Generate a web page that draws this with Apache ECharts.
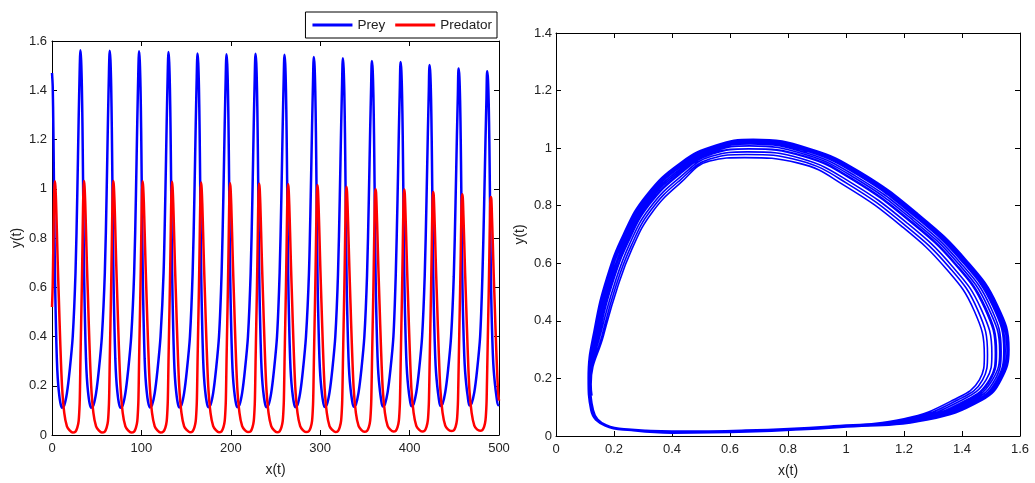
<!DOCTYPE html>
<html>
<head>
<meta charset="utf-8">
<script src="https://cdn.jsdelivr.net/npm/echarts@6/dist/echarts.min.js"></script>
<style>
html,body{margin:0;padding:0;background:#fff;}
#chart{width:1035px;height:483px;}
</style>
</head>
<body>
<div id="chart"></div>
<script>
// time samples (x(t) axis of left panel), one row per prey cycle
const time = [
  0, 0.8, 1.5, 2.1, 2.6, 3.2, 3.8, 4.5, 5.4, 6.4, 7.7, 9.2, 11.2, 13.7, 16.7, 19.7, 23.2, 26.3, 28.3, 29.8, 30.9, 31.35, 31.8,
  32.6, 33.4, 34.1, 34.7, 35.2, 35.8, 36.4, 37.1, 38.0, 39.0, 40.3, 41.8, 43.8, 46.3, 49.3, 52.3, 55.8, 59.1, 61.1, 62.6, 63.7, 64.15, 64.6,
  65.4, 66.2, 66.9, 67.5, 68.0, 68.6, 69.2, 69.9, 70.8, 71.8, 73.1, 74.6, 76.6, 79.1, 82.1, 85.1, 88.6, 91.9, 93.9, 95.4, 96.5, 96.95, 97.4,
  98.2, 99.0, 99.7, 100.3, 100.8, 101.4, 102.0, 102.7, 103.6, 104.6, 105.9, 107.4, 109.4, 111.9, 114.9, 117.9, 121.4, 124.8, 126.8, 128.3, 129.4, 129.85, 130.3,
  131.1, 131.9, 132.6, 133.2, 133.7, 134.3, 134.9, 135.6, 136.5, 137.5, 138.8, 140.3, 142.3, 144.8, 147.8, 150.8, 154.3, 157.3, 159.3, 160.8, 161.9, 162.35, 162.8,
  163.6, 164.4, 165.1, 165.7, 166.2, 166.8, 167.4, 168.1, 169.0, 170.0, 171.3, 172.8, 174.8, 177.3, 180.3, 183.3, 186.8, 189.7, 191.7, 193.2, 194.3, 194.75, 195.2,
  196.0, 196.8, 197.5, 198.1, 198.6, 199.2, 199.8, 200.5, 201.4, 202.4, 203.7, 205.2, 207.2, 209.7, 212.7, 215.7, 219.2, 222.2, 224.2, 225.7, 226.8, 227.25, 227.7,
  228.5, 229.3, 230.0, 230.6, 231.1, 231.7, 232.3, 233.0, 233.9, 234.9, 236.2, 237.7, 239.7, 242.2, 245.2, 248.2, 251.7, 254.6, 256.6, 258.1, 259.2, 259.65, 260.1,
  260.9, 261.7, 262.4, 263.0, 263.5, 264.1, 264.7, 265.4, 266.3, 267.3, 268.6, 270.1, 272.1, 274.6, 277.6, 280.6, 284.1, 287.4, 289.4, 290.9, 292.0, 292.45, 292.9,
  293.7, 294.5, 295.2, 295.8, 296.3, 296.9, 297.5, 298.2, 299.1, 300.1, 301.4, 302.9, 304.9, 307.4, 310.4, 313.4, 316.9, 319.9, 321.9, 323.4, 324.5, 324.95, 325.4,
  326.2, 327.0, 327.7, 328.3, 328.8, 329.4, 330.0, 330.7, 331.6, 332.6, 333.9, 335.4, 337.4, 339.9, 342.9, 345.9, 349.4, 352.4, 354.4, 355.9, 357.0, 357.45, 357.9,
  358.7, 359.5, 360.2, 360.8, 361.3, 361.9, 362.5, 363.2, 364.1, 365.1, 366.4, 367.9, 369.9, 372.4, 375.4, 378.4, 381.9, 384.5, 386.5, 388.0, 389.1, 389.55, 390.0,
  390.8, 391.6, 392.3, 392.9, 393.4, 394.0, 394.6, 395.3, 396.2, 397.2, 398.5, 400.0, 402.0, 404.5, 407.5, 410.5, 414.0, 416.9, 418.9, 420.4, 421.5, 421.95, 422.4,
  423.2, 424.0, 424.7, 425.3, 425.8, 426.4, 427.0, 427.7, 428.6, 429.6, 430.9, 432.4, 434.4, 436.9, 439.9, 442.9, 446.4, 449.4, 451.4, 452.9, 454.0, 454.45, 454.9,
  455.7, 456.5, 457.2, 457.8, 458.3, 458.9, 459.5, 460.2, 461.1, 462.1, 463.4, 464.9, 466.9, 469.4, 472.4, 475.4, 478.9, 481.4, 483.4, 484.9, 486.0, 486.45, 486.9,
  487.7, 488.5, 489.2, 489.8, 490.3, 490.9, 491.5, 492.2, 493.1, 494.1, 495.4, 496.9, 498.9, 500.0
];
// prey population
const prey = [
  1.47, 1.416, 1.25, 1.048, 0.876, 0.68, 0.55, 0.43, 0.31, 0.232, 0.175, 0.134, 0.111, 0.12, 0.17, 0.26, 0.40, 0.66, 0.98, 1.28, 1.47, 1.535, 1.562,
  1.522, 1.416, 1.25, 1.048, 0.876, 0.68, 0.55, 0.43, 0.31, 0.232, 0.175, 0.134, 0.111, 0.12, 0.17, 0.26, 0.40, 0.66, 0.98, 1.28, 1.47, 1.535, 1.560,
  1.522, 1.416, 1.25, 1.048, 0.876, 0.68, 0.55, 0.43, 0.31, 0.232, 0.175, 0.134, 0.111, 0.12, 0.17, 0.26, 0.40, 0.659, 0.978, 1.276, 1.465, 1.531, 1.558,
  1.518, 1.413, 1.247, 1.046, 0.874, 0.679, 0.549, 0.43, 0.311, 0.234, 0.177, 0.136, 0.112, 0.121, 0.17, 0.26, 0.40, 0.658, 0.976, 1.272, 1.46, 1.528, 1.555,
  1.514, 1.409, 1.244, 1.043, 0.872, 0.677, 0.548, 0.43, 0.312, 0.235, 0.179, 0.137, 0.112, 0.121, 0.171, 0.26, 0.40, 0.657, 0.974, 1.268, 1.455, 1.524, 1.549,
  1.51, 1.406, 1.241, 1.041, 0.87, 0.676, 0.547, 0.43, 0.313, 0.237, 0.18, 0.139, 0.113, 0.122, 0.171, 0.26, 0.40, 0.656, 0.972, 1.264, 1.45, 1.52, 1.546,
  1.506, 1.402, 1.238, 1.038, 0.868, 0.674, 0.546, 0.43, 0.314, 0.238, 0.182, 0.14, 0.113, 0.122, 0.171, 0.26, 0.40, 0.657, 0.974, 1.268, 1.455, 1.524, 1.548,
  1.51, 1.406, 1.241, 1.041, 0.87, 0.676, 0.547, 0.43, 0.313, 0.237, 0.18, 0.139, 0.113, 0.122, 0.171, 0.26, 0.40, 0.656, 0.972, 1.264, 1.45, 1.52, 1.544,
  1.506, 1.402, 1.238, 1.038, 0.868, 0.674, 0.546, 0.43, 0.314, 0.238, 0.182, 0.14, 0.113, 0.122, 0.171, 0.26, 0.40, 0.654, 0.968, 1.256, 1.44, 1.513, 1.535,
  1.498, 1.395, 1.232, 1.033, 0.864, 0.671, 0.544, 0.43, 0.316, 0.241, 0.186, 0.143, 0.114, 0.123, 0.172, 0.26, 0.40, 0.652, 0.964, 1.248, 1.43, 1.505, 1.530,
  1.49, 1.388, 1.226, 1.028, 0.86, 0.668, 0.542, 0.43, 0.318, 0.244, 0.189, 0.146, 0.115, 0.124, 0.172, 0.26, 0.40, 0.65, 0.96, 1.24, 1.42, 1.498, 1.519,
  1.482, 1.381, 1.22, 1.023, 0.856, 0.665, 0.54, 0.43, 0.32, 0.247, 0.193, 0.149, 0.116, 0.125, 0.173, 0.26, 0.40, 0.649, 0.958, 1.236, 1.415, 1.494, 1.515,
  1.478, 1.378, 1.217, 1.021, 0.854, 0.664, 0.539, 0.43, 0.321, 0.249, 0.194, 0.151, 0.117, 0.126, 0.173, 0.26, 0.40, 0.646, 0.952, 1.224, 1.40, 1.483, 1.503,
  1.466, 1.367, 1.208, 1.013, 0.848, 0.659, 0.536, 0.43, 0.324, 0.253, 0.2, 0.155, 0.118, 0.127, 0.174, 0.26, 0.40, 0.643, 0.946, 1.212, 1.385, 1.471, 1.488,
  1.454, 1.357, 1.199, 1.006, 0.842, 0.655, 0.533, 0.43, 0.327, 0.258, 0.205, 0.16, 0.12, 0.129, 0.174, 0.26, 0.40, 0.64, 0.94, 1.2, 1.37, 1.46, 1.477,
  1.442, 1.346, 1.19, 0.998, 0.836, 0.65, 0.53, 0.43, 0.33, 0.262, 0.21, 0.164, 0.121, 0.124
];
// predator population
const predator = [
  0.52, 0.61, 0.77, 0.918, 0.998, 1.03, 1.01, 0.95, 0.835, 0.70, 0.55, 0.38, 0.20, 0.09, 0.035, 0.019, 0.010, 0.014, 0.030, 0.056, 0.125, 0.195, 0.30,
  0.455, 0.61, 0.77, 0.918, 0.998, 1.031, 1.01, 0.95, 0.835, 0.70, 0.55, 0.38, 0.20, 0.09, 0.035, 0.019, 0.010, 0.014, 0.030, 0.056, 0.125, 0.195, 0.30,
  0.455, 0.61, 0.77, 0.918, 0.998, 1.031, 1.01, 0.95, 0.835, 0.70, 0.55, 0.38, 0.20, 0.09, 0.035, 0.019, 0.010, 0.014, 0.030, 0.056, 0.125, 0.195, 0.299,
  0.454, 0.609, 0.768, 0.916, 0.996, 1.030, 1.007, 0.947, 0.832, 0.698, 0.548, 0.379, 0.199, 0.09, 0.035, 0.019, 0.010, 0.015, 0.030, 0.056, 0.125, 0.195, 0.298,
  0.453, 0.607, 0.766, 0.913, 0.993, 1.028, 1.005, 0.943, 0.829, 0.695, 0.546, 0.377, 0.198, 0.09, 0.035, 0.02, 0.011, 0.015, 0.031, 0.057, 0.125, 0.195, 0.297,
  0.452, 0.606, 0.764, 0.911, 0.991, 1.025, 1.002, 0.94, 0.826, 0.693, 0.544, 0.376, 0.197, 0.09, 0.036, 0.02, 0.011, 0.015, 0.031, 0.057, 0.125, 0.195, 0.296,
  0.451, 0.604, 0.762, 0.908, 0.988, 1.022, 0.999, 0.936, 0.823, 0.69, 0.542, 0.374, 0.196, 0.09, 0.036, 0.02, 0.012, 0.015, 0.031, 0.057, 0.125, 0.195, 0.297,
  0.452, 0.606, 0.764, 0.911, 0.991, 1.020, 1.002, 0.94, 0.826, 0.693, 0.544, 0.376, 0.197, 0.09, 0.036, 0.02, 0.011, 0.015, 0.031, 0.057, 0.125, 0.195, 0.296,
  0.451, 0.604, 0.762, 0.908, 0.988, 1.018, 0.999, 0.936, 0.823, 0.69, 0.542, 0.374, 0.196, 0.09, 0.036, 0.02, 0.012, 0.016, 0.031, 0.057, 0.125, 0.195, 0.294,
  0.449, 0.601, 0.758, 0.903, 0.983, 1.015, 0.994, 0.929, 0.817, 0.685, 0.538, 0.371, 0.194, 0.09, 0.036, 0.021, 0.012, 0.016, 0.032, 0.058, 0.125, 0.195, 0.292,
  0.447, 0.598, 0.754, 0.898, 0.978, 1.008, 0.988, 0.922, 0.811, 0.68, 0.534, 0.368, 0.192, 0.09, 0.037, 0.021, 0.013, 0.017, 0.032, 0.058, 0.125, 0.195, 0.29,
  0.445, 0.595, 0.75, 0.893, 0.973, 0.998, 0.983, 0.915, 0.805, 0.675, 0.53, 0.365, 0.19, 0.09, 0.037, 0.022, 0.014, 0.017, 0.032, 0.058, 0.125, 0.195, 0.289,
  0.444, 0.594, 0.748, 0.891, 0.971, 0.997, 0.98, 0.912, 0.802, 0.673, 0.528, 0.364, 0.189, 0.09, 0.037, 0.022, 0.014, 0.018, 0.033, 0.059, 0.125, 0.195, 0.286,
  0.441, 0.589, 0.742, 0.883, 0.963, 0.987, 0.972, 0.901, 0.793, 0.665, 0.522, 0.359, 0.186, 0.09, 0.038, 0.023, 0.016, 0.019, 0.033, 0.059, 0.125, 0.195, 0.283,
  0.438, 0.585, 0.736, 0.876, 0.956, 0.978, 0.963, 0.891, 0.784, 0.658, 0.516, 0.354, 0.183, 0.09, 0.038, 0.023, 0.017, 0.02, 0.034, 0.06, 0.125, 0.195, 0.28,
  0.435, 0.58, 0.73, 0.868, 0.948, 0.967, 0.955, 0.88, 0.775, 0.65, 0.51, 0.35, 0.18, 0.14
];
const seriesNames = ['Prey', 'Predator'];
const axisNames = { x: 'x(t)', y: 'y(t)' };

if (time.length !== prey.length || time.length !== predator.length) {
  console.error('length mismatch', time.length, prey.length, predator.length);
}

const preyData = time.map((t, i) => [t, prey[i]]);
const predData = time.map((t, i) => [t, predator[i]]);
const phaseData = prey.map((x, i) => [x, predator[i]]);

const FONT = 'Liberation Sans, Arial, sans-serif';
const labelStyle = { color: '#222', fontSize: 13, fontFamily: FONT };
const lineStyle = { color: '#000', width: 1 };

function mainAxis(pos, grid, min, max, interval, name, nameGap, nameRotate, margin) {
  return {
    type: 'value', gridIndex: grid, position: pos, min: min, max: max, interval: interval,
    name: name, nameLocation: 'middle', nameGap: nameGap, nameRotate: nameRotate,
    nameTextStyle: { color: '#222', fontSize: 14, fontFamily: FONT },
    axisLine: { show: true, onZero: false, lineStyle: lineStyle },
    axisTick: { show: true, inside: true, length: 5, lineStyle: lineStyle },
    axisLabel: Object.assign({ margin: margin }, labelStyle),
    splitLine: { show: false }
  };
}
function mirrorAxis(pos, grid, min, max, interval) {
  return {
    type: 'value', gridIndex: grid, position: pos, min: min, max: max, interval: interval,
    axisLine: { show: true, onZero: false, lineStyle: lineStyle },
    axisTick: { show: true, inside: true, length: 5, lineStyle: lineStyle },
    axisLabel: { show: false },
    splitLine: { show: false }
  };
}

const chart = echarts.init(document.getElementById('chart'), null, { renderer: 'canvas' });
chart.setOption({
  backgroundColor: '#fff',
  animation: false,
  grid: [
    { left: 52, right: 536, top: 41, bottom: 48 },
    { left: 556, right: 15, top: 33, bottom: 42 }
  ],
  legend: {
    data: seriesNames,
    right: 538, top: 12,
    orient: 'horizontal',
    icon: 'rect', itemWidth: 40, itemHeight: 3, itemGap: 10,
    padding: [6, 5, 6, 7],
    borderColor: '#000', borderWidth: 1, backgroundColor: '#fff',
    textStyle: { color: '#222', fontSize: 13.5, fontFamily: FONT }
  },
  xAxis: [
    mainAxis('bottom', 0, 0, 500, 100, axisNames.x, 28, 0, 7),
    mirrorAxis('top', 0, 0, 500, 100),
    mainAxis('bottom', 1, 0, 1.6, 0.2, axisNames.x, 28, 0, 7),
    mirrorAxis('top', 1, 0, 1.6, 0.2)
  ],
  yAxis: [
    mainAxis('left', 0, 0, 1.6, 0.2, axisNames.y, 28, 90, 5),
    mirrorAxis('right', 0, 0, 1.6, 0.2),
    mainAxis('left', 1, 0, 1.4, 0.2, axisNames.y, 29, 90, 4),
    mirrorAxis('right', 1, 0, 1.4, 0.2)
  ],
  series: [
    { name: seriesNames[0], type: 'line', xAxisIndex: 0, yAxisIndex: 0, data: preyData,
      showSymbol: false, symbol: 'none', smooth: 0.3, itemStyle: { color: '#0000ff' },
      lineStyle: { color: '#0000ff', width: 2.5 } },
    { name: seriesNames[1], type: 'line', xAxisIndex: 0, yAxisIndex: 0, data: predData,
      showSymbol: false, symbol: 'none', smooth: 0.3, itemStyle: { color: '#ff0000' },
      lineStyle: { color: '#ff0000', width: 2.5 } },
    { name: 'phase', type: 'line', xAxisIndex: 2, yAxisIndex: 2, data: phaseData,
      showSymbol: false, symbol: 'none', smooth: 0.45, itemStyle: { color: '#0000ff' },
      lineStyle: { color: '#0000ff', width: 1.6 } }
  ]
});
</script>
</body>
</html>
